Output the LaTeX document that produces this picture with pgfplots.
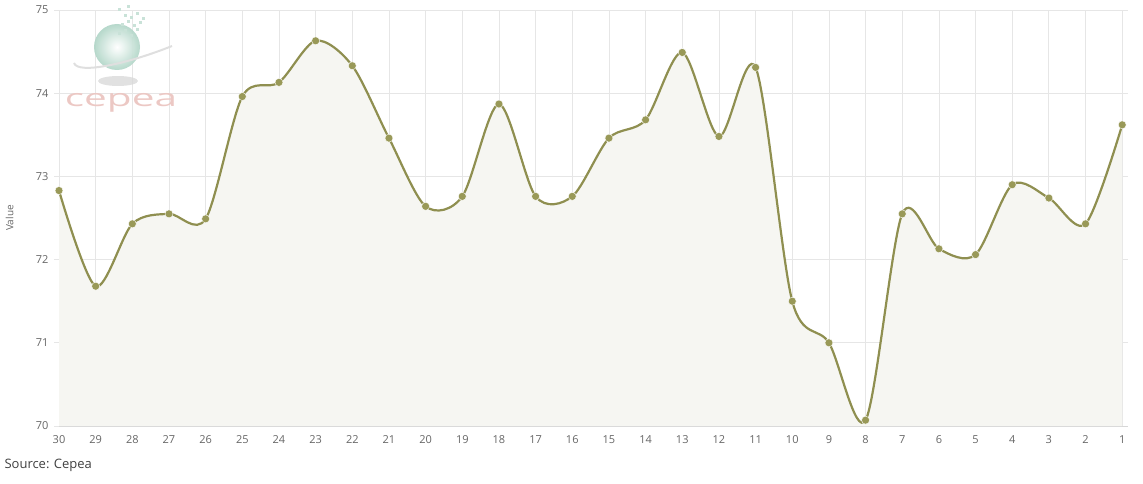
\documentclass[border=0pt]{standalone}
\usepackage{fontspec}
\setmainfont{Open Sans}
\usepackage{pgfplots}
\pgfplotsset{compat=1.18}
\usetikzlibrary{shadings}

\definecolor{lineol}{RGB}{143,143,80}
\definecolor{markol}{RGB}{153,153,88}
\definecolor{areafill}{RGB}{246,246,242}
\definecolor{gridc}{RGB}{230,230,230}
\definecolor{axisc}{RGB}{215,215,215}
\definecolor{labc}{RGB}{102,102,102}
\definecolor{logopink}{RGB}{236,200,196}
\definecolor{mint}{RGB}{178,214,200}

\pgfplotstableread{
x y
0 72.83
1 71.68
2 72.43
3 72.55
4 72.49
5 73.96
6 74.13
7 74.63
8 74.33
9 73.46
10 72.64
11 72.76
12 73.87
13 72.76
14 72.76
15 73.46
16 73.68
17 74.49
18 73.48
19 74.31
20 71.50
21 71.00
22 70.07
23 72.55
24 72.13
25 72.06
26 72.90
27 72.74
28 72.43
29 73.62
}\prices

\begin{document}
\begin{tikzpicture}[x=1pt,y=1pt]
\path[use as bounding box] (0,0) rectangle (1143,483);
\begin{axis}[
    at={(59pt,57pt)}, anchor=south west,
    scale only axis,
    width=1068.7pt, height=416pt,
    xmin=0, xmax=29.15,
    ymin=70, ymax=75,
    xtick={0,...,29},
    xticklabels={30,29,28,27,26,25,24,23,22,21,20,19,18,17,16,15,14,13,12,11,10,9,8,7,6,5,4,3,2,1},
    ytick={70,71,72,73,74,75},
    grid=major,
    major grid style={gridc, line width=0.8pt},
    axis line style={draw=none},
    axis x line*=bottom,
    axis y line*=left,
    x axis line style={draw=axisc, line width=0.8pt},
    y axis line style={draw=none},
    xtick style={draw=none},
    ytick style={draw=gridc, line width=0.8pt},
    tick align=outside,
    major tick length=5pt,
    ticklabel style={font=\fontsize{11}{13}\selectfont, text=labc},
    /pgf/number format/assume math mode=true,
    xticklabel style={yshift=-1pt},
    yticklabel style={xshift=-2pt},
    ylabel={Value},
    ylabel style={font=\fontsize{10}{12}\selectfont, text=labc, at={(-42pt,208pt)}, anchor=south, rotate=0},
    clip=false,
]
\addplot[fill=areafill, draw=none, smooth, forget plot] table[x=x,y=y] {\prices} \closedcycle;
\addplot[lineol, line width=2.2pt, smooth, mark=*, mark size=4pt,
    mark options={fill=markol, draw=white, line width=0.4pt}] table[x=x,y=y] {\prices};
\end{axis}
% logo
\fill[gray!30, opacity=0.8] (118,402) ellipse (20pt and 5pt);
\shade[inner color=white, outer color=mint, opacity=0.95] (117,436) circle (23pt);
\draw[gray!25, line width=2pt] (74,420) .. controls (78,408) and (130,420) .. (172,437);
\foreach \i/\j in {0/0,6/3,12/-2,18/4,3/9,9/12,15/8,21/11,6/18,12/16,18/20,24/15,0/24,9/27}
  \fill[mint!70!white] (118+\i,448+\j) rectangle ++(3,3);
\node[anchor=center, text=logopink, font=\fontsize{30}{30}\selectfont, xscale=1.35, yscale=0.8] at (121,380) {cepea};
% source
\node[anchor=west, text=black!75, font=\fontsize{13}{15}\selectfont] at (1,18) {Source: Cepea};
\end{tikzpicture}
\end{document}
